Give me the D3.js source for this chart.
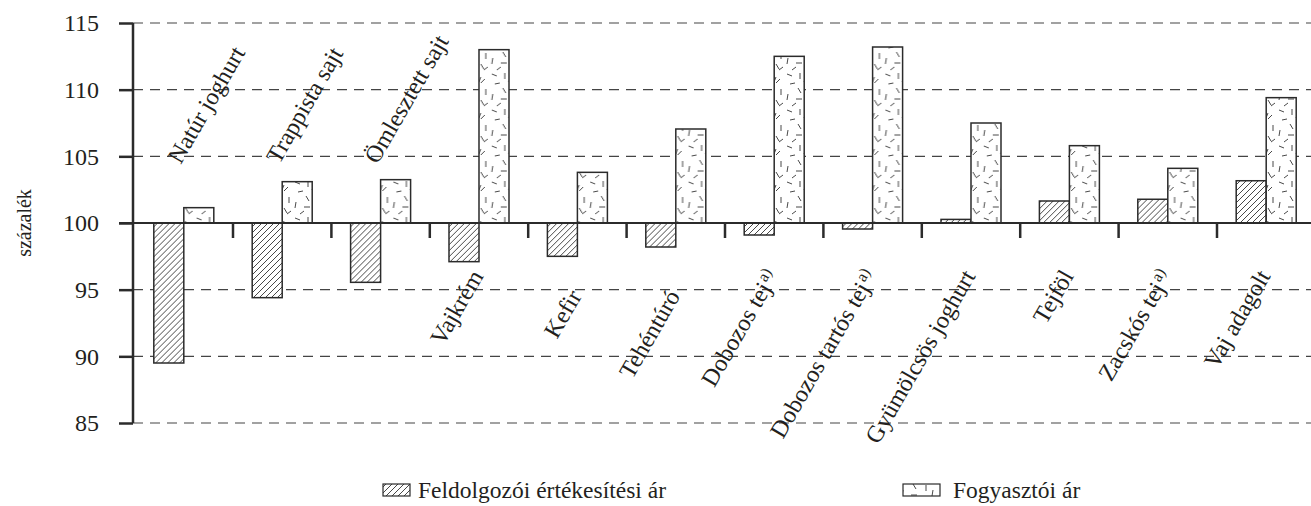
<!DOCTYPE html>
<html>
<head>
<meta charset="utf-8">
<script src="https://cdn.jsdelivr.net/npm/d3@7"></script>
<style>
  body { margin: 0; background: #fff; }
  svg { display: block; font-family: "Liberation Serif", "Times New Roman", serif; }
</style>
</head>
<body>
<svg id="chart"></svg>
<script>
var WIDTH = 1311;
var HEIGHT = 506;

// data (index, previous year = 100)
var categories = ["Natúr joghurt", "Trappista sajt", "Ömlesztett sajt", "Vajkrém", "Kefir", "Tehéntúró",
  "Dobozos tej", "Dobozos tartós tej", "Gyümölcsös joghurt", "Tejföl", "Zacskós tej", "Vaj adagolt"];
var footnotes = ["", "", "", "", "", "", "a)", "a)", "", "", "a)", ""];
var processorPrice = [89.5, 94.4, 95.55, 97.1, 97.5, 98.2, 99.1, 99.55, 100.27, 101.65, 101.78, 103.17];
var consumerPrice = [101.15, 103.1, 103.25, 113.0, 103.8, 107.05, 112.5, 113.2, 107.5, 105.8, 104.1, 109.4];
var seriesNames = ["Feldolgozói értékesítési ár", "Fogyasztói ár"];
var yTicks = [85, 90, 95, 100, 105, 110, 115];

var LEFT = 133;
var BAND = 98.4;
var INK = "#2b2b2b";
var TEXT = "#231f20";
// a couple of labels sit a little lower in the original
var labelDrop = { "Kefir": 20, "Tehéntúró": 20 };

var svg = d3.select("#chart").attr("width", WIDTH).attr("height", HEIGHT);

var y = d3.scaleLinear().domain([85, 115]).range([423, 23]);
var x = d3.scaleBand().domain(categories).range([LEFT + 1.6, LEFT + 1.6 + BAND * categories.length]);
var xs = d3.scaleBand().domain(seriesNames).range([0, x.bandwidth()]).paddingOuter(0.64);

// patterns
var defs = svg.append("defs");
var hatch = defs.append("pattern").attr("id", "hatch")
  .attr("patternUnits", "userSpaceOnUse").attr("width", 6).attr("height", 6);
hatch.append("rect").attr("width", 6).attr("height", 6).attr("fill", "#fff");
hatch.append("path").attr("d", "M0,6 L6,0 M-1,1 L1,-1 M5,7 L7,5")
  .attr("stroke", "#333").attr("stroke-width", 0.9);

// scattered short dashes, hand placed inside the tile
var confetti = defs.append("pattern").attr("id", "confetti")
  .attr("patternUnits", "userSpaceOnUse").attr("width", 30).attr("height", 36);
confetti.append("rect").attr("width", 30).attr("height", 36).attr("fill", "#fff");
confetti.append("path")
  .attr("d", "M2,2 l5,2 M15,1 l0,6 M25,7 l-4,4 M5,12 l5,-1 M13,16 l3,5 M26,17 l0,6 " +
    "M3,22 l-1,6 M11,27 l6,0 M21,28 l3,5 M7,34 l4,-3 M19,10 l2,-5 M28,31 l-4,3")
  .attr("stroke", "#333").attr("stroke-width", 0.9).attr("fill", "none");

// grid lines
svg.append("g").selectAll("line")
  .data(yTicks.filter(function (t) { return t !== 100; }))
  .enter().append("line")
  .attr("x1", LEFT).attr("x2", WIDTH)
  .attr("y1", function (d) { return y(d); }).attr("y2", function (d) { return y(d); })
  .attr("stroke", "#444").attr("stroke-width", 1.2).attr("stroke-dasharray", "10,7");

// y axis
var yAxis = d3.axisLeft(y).tickValues(yTicks).tickSize(14).tickPadding(20);
var yg = svg.append("g").attr("transform", "translate(" + LEFT + ",0)").call(yAxis)
  .attr("font-family", null).attr("font-size", null);
yg.select(".domain").attr("stroke", INK).attr("stroke-width", 2.5).attr("d", "M0," + y(115) + "V" + y(85));
yg.selectAll(".tick line").attr("stroke", INK).attr("stroke-width", 2.5);
yg.selectAll(".tick text").attr("fill", TEXT).style("font-size", "24px");

svg.append("text")
  .attr("transform", "translate(31," + y(100) + ") rotate(-90)")
  .attr("text-anchor", "middle").attr("fill", TEXT).style("font-size", "20px")
  .text("százalék");

// bars
var groups = svg.append("g").selectAll("g")
  .data(categories).enter().append("g")
  .attr("transform", function (d) { return "translate(" + x(d) + ",0)"; });

groups.append("rect")
  .attr("x", xs(seriesNames[0])).attr("width", xs.bandwidth())
  .attr("y", function (d, i) { return Math.min(y(processorPrice[i]), y(100)); })
  .attr("height", function (d, i) { return Math.abs(y(processorPrice[i]) - y(100)); })
  .attr("fill", "url(#hatch)").attr("stroke", INK).attr("stroke-width", 1.5);

groups.append("rect")
  .attr("x", xs(seriesNames[1])).attr("width", xs.bandwidth())
  .attr("y", function (d, i) { return Math.min(y(consumerPrice[i]), y(100)); })
  .attr("height", function (d, i) { return Math.abs(y(consumerPrice[i]) - y(100)); })
  .attr("fill", "url(#confetti)").attr("stroke", INK).attr("stroke-width", 1.5);

// x axis at 100 with category separators
var xAxis = d3.axisBottom(x).tickSize(0).tickFormat("");
var xg = svg.append("g").attr("transform", "translate(0," + y(100) + ")").call(xAxis);
xg.select(".domain").attr("stroke", INK).attr("stroke-width", 2.2).attr("d", "M119,0H" + WIDTH);
xg.selectAll(".tick").remove();
xg.selectAll(".sep").data(categories.slice(1)).enter().append("line")
  .attr("x1", function (d) { return x(d); }).attr("x2", function (d) { return x(d); })
  .attr("y1", 0).attr("y2", 15).attr("stroke", INK).attr("stroke-width", 2.5);

// category labels: above the axis where the processor bar hangs deep, else below
var labels = svg.append("g").selectAll("text")
  .data(categories).enter().append("text")
  .attr("fill", TEXT).style("font-size", "24px")
  .attr("text-anchor", function (d, i) { return processorPrice[i] < 96 ? "start" : "end"; })
  .attr("transform", function (d, i) {
    var cx = x(d) + x.bandwidth() / 2;
    if (processorPrice[i] < 96) return "translate(" + (cx - 3) + ",165) rotate(-60)";
    return "translate(" + (cx + 5) + "," + (276 + (labelDrop[d] || 0)) + ") rotate(-60)";
  });
labels.append("tspan").text(function (d) { return d; });
labels.append("tspan")
  .attr("dx", 2).attr("dy", -8).style("font-size", "16px")
  .text(function (d, i) { return footnotes[i]; });

// legend
var legend = svg.append("g");
legend.append("rect").attr("x", 383).attr("y", 484).attr("width", 27).attr("height", 12)
  .attr("fill", "url(#hatch)").attr("stroke", INK).attr("stroke-width", 1.2);
legend.append("text").attr("x", 418).attr("y", 498).attr("fill", TEXT).style("font-size", "23.5px")
  .text(seriesNames[0]);
legend.append("rect").attr("x", 903).attr("y", 484).attr("width", 37).attr("height", 12)
  .attr("fill", "url(#confetti)").attr("stroke", INK).attr("stroke-width", 1.2);
legend.append("text").attr("x", 953).attr("y", 498).attr("fill", TEXT).style("font-size", "23.5px")
  .text(seriesNames[1]);
</script>
</body>
</html>
